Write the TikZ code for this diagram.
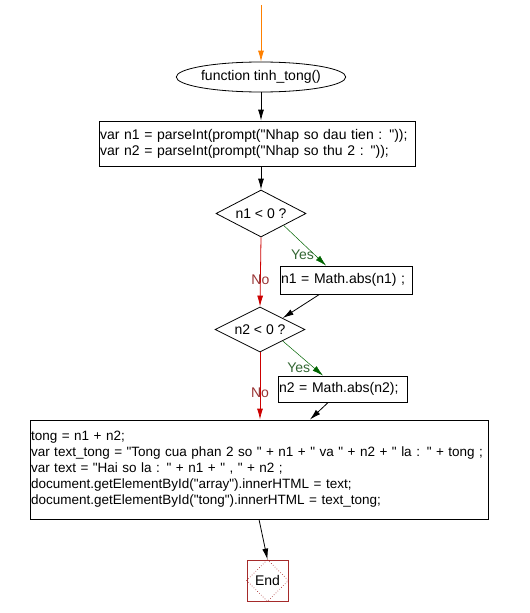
\documentclass[tikz,border=0pt]{standalone}
\usepackage{fontspec}
\setmainfont{Liberation Sans}[Ligatures=TeXOff]
\usepackage{tikz}
\usetikzlibrary{shapes.geometric, arrows.meta, calc}
\definecolor{flowred}{HTML}{CC0000}
\definecolor{nobrown}{HTML}{993333}
\definecolor{flowgreen}{HTML}{006400}
\definecolor{yesgreen}{HTML}{336633}
\definecolor{endred}{HTML}{A52A2A}
\tikzset{
    flow/.style = {line width=0.8pt, -{Latex[length=11pt,width=6pt]}},
    procbox/.style = {draw, rectangle, inner xsep=1pt, inner ysep=0pt, align=left, font=\fontsize{14}{16}\selectfont},
    decide/.style = {draw, diamond, aspect=1.9, inner sep=0pt, font=\fontsize{14}{16}\selectfont},
    yeslbl/.style = {text=yesgreen, inner sep=0pt, font=\fontsize{14}{16}\selectfont},
    nolbl/.style = {text=nobrown, inner sep=0pt, font=\fontsize{14}{16}\selectfont},
}
\begin{document}
\begin{tikzpicture}[x=1pt, y=-1pt, line width=0.8pt]
\useasboundingbox (0,0) rectangle (530,613);

\coordinate (start) at (261,5);
\node[draw, ellipse, minimum width=147pt, minimum height=30pt, inner sep=0pt,
      font=\fontsize{14}{16}\selectfont] (func) at (261,77) {function tinh\_tong()};
\draw[flow, color=orange] (start) -- (func.north);

\node[procbox, text width=314pt, minimum height=45pt] (input) at (257,143.5)
    {var n1 = parseInt(prompt("Nhap so dau tien :  "));\\
     var n2 = parseInt(prompt("Nhap so thu 2 :  "));};
\draw[flow] (func.south) -- (func.south |- input.north);

\node[decide, minimum width=90pt, minimum height=47pt] (d1) at (261,213.5) {n1 < 0 ?};
\draw[flow] (d1.north |- input.south) -- (d1.north);

\node[procbox, text width=130pt, minimum height=28pt] (abs1) at (346,280) {n1 = Math.abs(n1) ;};
\draw[flow, color=flowgreen, line width=0.5pt] (d1.south east) -- ($(abs1.north west)!0.35!(abs1.north east)$)
    node[yeslbl, pos=0.72, anchor=east] {Yes};

\node[decide, minimum width=90pt, minimum height=45pt] (d2) at (260,329.5) {n2 < 0 ?};
\draw[flow, color=flowred] (d1.south) -- (d2.north)
    node[nolbl, pos=0.61] {No};
\draw[flow] ($(abs1.south west)!0.3!(abs1.south east)$) -- (d2.north east);

\node[procbox, text width=127pt, minimum height=26pt] (abs2) at (342.5,389) {n2 = Math.abs(n2);};
\draw[flow, color=flowgreen, line width=0.5pt] (d2.south east) -- ($(abs2.north west)!0.35!(abs2.north east)$)
    node[yeslbl, pos=0.76, anchor=east, xshift=-3pt] {Yes};

\node[procbox, text width=456pt, minimum height=99pt, font=\fontsize{13.5}{16}\selectfont] (calc) at (259,469.5)
    {tong = n1 + n2;\\
     var text\_tong = "Tong cua phan 2 so " + n1 + " va " + n2 + " la :  " + tong ;\\
     var text = "Hai so la : " + n1 + " , " + n2 ;\\
     document.getElementById("array").innerHTML = text;\\
     document.getElementById("tong").innerHTML = text\_tong;};
\draw[flow, color=flowred] (d2.south) -- (d2.south |- calc.north)
    node[nolbl, pos=0.6] {No};
\draw[flow] ($(abs2.south west)!0.39!(abs2.south east)$) -- ($(calc.north west)!0.611!(calc.north east)$);

% end marker
\node[draw=endred, rectangle, minimum size=41pt, inner sep=0pt,
      font=\fontsize{14}{16}\selectfont] (end) at (267.5,580.5) {End};
\draw[endred, dotted, line width=0.6pt] (end.north) -- (end.east) -- (end.south) -- (end.west) -- cycle;
\draw[flow] (calc.south) -- (end.north);
\end{tikzpicture}
\end{document}
